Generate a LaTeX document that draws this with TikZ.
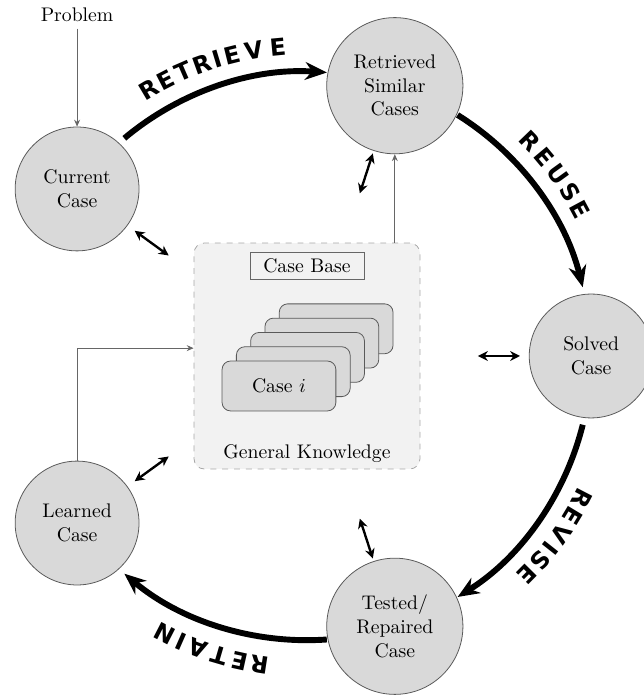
\documentclass[tikz,border=0pt]{standalone}
\usepackage{fontspec}
\newfontfamily\stepfont{DejaVu Sans}
\usepackage{tikz}
\usetikzlibrary{positioning,calc,arrows.meta}
\newcommand{\cycR}{5.07}
\tikzset{
  casenode/.style={circle,draw=black!65,fill=gray!30,align=center,minimum size=2.21cm,inner sep=0pt},
  bigcase/.style={casenode,minimum size=2.43cm},
  kbbox/.style={rectangle,rounded corners=1.8mm,dashed,draw=gray!70,fill=gray!10,minimum size=4.03cm},
  basebox/.style={rectangle,draw=black!60,minimum width=2.03cm,minimum height=0.48cm,inner sep=1pt},
  card/.style={rectangle,rounded corners=1.5mm,draw=black!65,fill=gray!30,minimum width=2.03cm,minimum height=0.89cm},
  cyclearrow/.style={line width=3pt,-{Stealth[length=11pt,width=9pt]}},
  kbarrow/.style={line width=1.2pt,{Stealth[length=5pt,width=5pt]}-{Stealth[length=5pt,width=5pt]}},
  thinarrow/.style={draw=black!60,line width=0.5pt,-{Stealth[length=3.5pt,width=3pt]}},
  steplabel/.style={font=\stepfont\bfseries\fontsize{12}{14}\selectfont,inner sep=0pt}
}
\begin{document}
\begin{tikzpicture}
  \useasboundingbox (-5.477,-6.048) rectangle (6.012,6.351);

  % knowledge box in the middle
  \node[kbbox] (kb) at (0,0) {};
  \node[basebox,below=0.17cm of kb.north] (base) {Case Base};
  \node[above=0pt of kb.south] (gk) {General Knowledge};
  \coordinate (cardpos) at (-0.50,-0.535);
  \foreach \i in {4,3,2,1}
    \node[card] (card\i) at ($(cardpos)+(\i*0.255,\i*0.255)$) {};
  \node[card] (card0) at (cardpos) {Case $i$};

  % the five cases
  \node[casenode] (cur) at (144:\cycR) {Current\\Case};
  \node[bigcase] (ret) at (72:\cycR) {Retrieved\\Similar\\Cases};
  \node[casenode] (sol) at (0:\cycR) {Solved\\Case};
  \node[bigcase] (tst) at (-72:\cycR) {Tested/\\Repaired\\Case};
  \node[casenode] (lrn) at (-144:\cycR) {Learned\\Case};
  \node[above=1.75cm of cur] (prob) {Problem};

  \draw[thinarrow] (prob) -- (cur);
  \draw[thinarrow] (kb.north -| ret) -- (ret);
  \draw[thinarrow] (lrn) |- ($(kb.west)+(0,0.14)$);

  % cycle
  \foreach \a [count=\i] in {144,72,0,-72}{
    \coordinate (arcstart\i) at ({\a-14}:\cycR);
    \draw[cyclearrow] (arcstart\i) arc[start angle=\a-14,end angle=\a-58,radius=\cycR];
  }
  \foreach \a [count=\i] in {144,72,0,-72,-144}{
    \coordinate (kbin\i) at (\a:3.05);
    \coordinate (kbout\i) at (\a:3.80);
    \draw[kbarrow] (kbin\i) -- (kbout\i);
  }

  % step names
  \foreach \ch/\a in {R/120.7,E/117.2,T/113.5,R/109.8,I/106.8,E/103.9,V/99.9,E/95.4}
    \node[steplabel,rotate=\a-90] at (\a:5.53) {\ch};
  \foreach \ch/\a in {R/44.0,E/40.0,U/35.9,S/31.9,E/28.2}
    \node[steplabel,rotate=\a-90] at (\a:5.53) {\ch};
  \foreach \ch/\a in {R/-27.4,E/-31.1,V/-35.0,I/-38.3,S/-41.2,E/-44.7}
    \node[steplabel,rotate=\a-90] at (\a:5.53) {\ch};
  \foreach \ch/\a in {R/-98.8,E/-102.5,T/-106.3,A/-110.5,I/-113.8,N/-117.2}
    \node[steplabel,rotate=\a-90] at (\a:5.57) {\ch};
\end{tikzpicture}
\end{document}
